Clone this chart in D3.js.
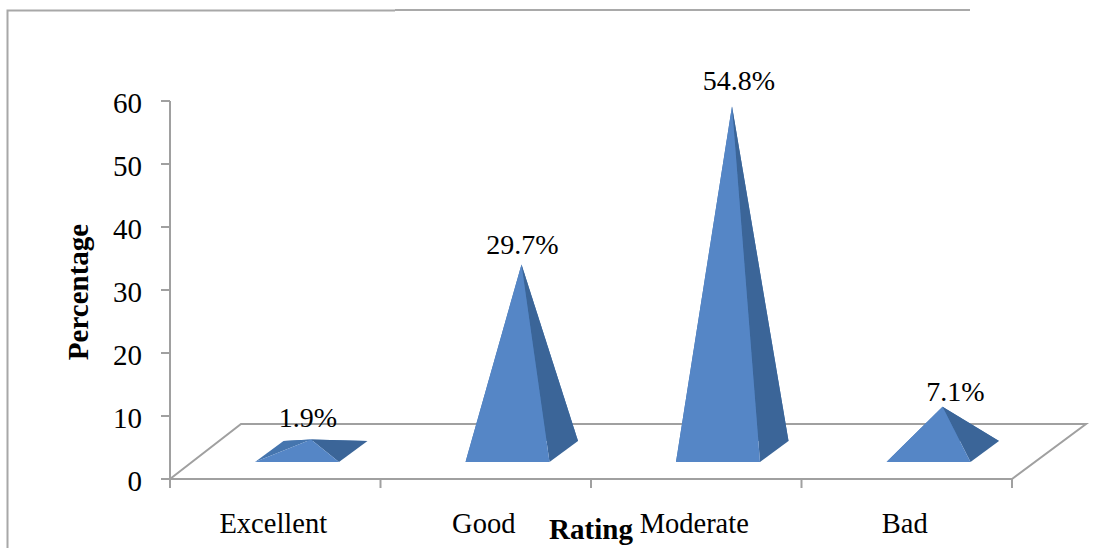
<!DOCTYPE html>
<html><head><meta charset="utf-8">
<style>html,body{margin:0;padding:0;background:#fff}svg{display:block}text{font-family:"Liberation Serif",serif;fill:#000}</style>
<script src="https://cdn.jsdelivr.net/npm/d3@7"></script></head>
<body><svg id="c" width="1113" height="548"></svg>
<script>
const categories = ["Excellent","Good","Moderate","Bad"];
const values = [1.9,29.7,54.8,7.1];
const valueLabels = ["1.9%","29.7%","54.8%","7.1%"];
const yTicks = [0,10,20,30,40,50,60];
const W=1113,H=548, FS=29;
const svg=d3.select("#c");
const defs=svg.append("defs");
defs.append("filter").attr("id","soft").append("feGaussianBlur").attr("stdDeviation",0.5);
const x=d3.scaleBand().domain(categories).range([170,1012]);
const y=d3.scaleLinear().domain([0,60]).range([479,101]);
const grey="#a0a0a0";
// frame
const frame=svg.append("g").attr("fill","none");
frame.append("path").attr("d","M7.5,548V10.5H395").attr("stroke","#a8a8a8").attr("stroke-width",2);
frame.append("path").attr("d","M395,10H970").attr("stroke","#8c8c8c").attr("stroke-width",1.5);
// floor
const dx=73, dy=55;
const x0=x.range()[0], x1=x.range()[1], y0=y(0);
svg.append("path").attr("fill","none").attr("stroke",grey).attr("stroke-width",2)
 .attr("d",d3.line()([[x0,y0],[x0+dx-2,y0-dy],[x1+dx+1,y0-dy],[x1,y0],[x0,y0]]));
// axes
svg.append("g").attr("stroke",grey).attr("stroke-width",2).call(g=>{
 g.append("line").attr("x1",x0).attr("x2",x0).attr("y1",y(60)).attr("y2",y0+9);
 g.selectAll(".ty").data(yTicks).join("line").attr("x1",x0-9).attr("x2",x0).attr("y1",d=>y(d)).attr("y2",d=>y(d));
 const xt=categories.map(c=>x(c)).concat([x1]);
 g.selectAll(".tx").data(xt).join("line").attr("x1",d=>d).attr("x2",d=>d).attr("y1",y0).attr("y2",y0+9);
});
svg.selectAll(".yl").data(yTicks).join("text").attr("x",x0-28).attr("y",d=>y(d)).attr("dy","0.4em")
 .attr("text-anchor","end").attr("font-size",FS).text(d=>d);
// pyramids
const baseY=y0-17, backY=y0-38, bw=x.bandwidth();
const marks=svg.append("g").attr("filter","url(#soft)");
const labelDx=[-3,1,7,13], labelDy=[13,10,16,6];
categories.forEach((c,i)=>{
 const l=x(c)+85, r=l+84, off=28.5;
 const FL=[l,baseY],FR=[r,baseY],BR=[r+off,backY],BL=[l+off,backY];
 const ax=(l+r)/2+14, ay=y(values[i])-(y(0)-(baseY+backY)/2);
 const A=[ax,ay], tri=(pts,col)=>marks.append("path").attr("d",d3.line()(pts)+"Z").attr("fill",col);
 tri([BL,BR,A],"#4474ae");
 tri([FL,BL,A],"#4474ae");
 tri([FR,BR,A],"#3a6598");
 tri([FL,FR,A],"#5586c6");
 svg.append("text").attr("x",ax+labelDx[i]).attr("y",ay-labelDy[i]).attr("text-anchor","middle").attr("font-size",FS-1).text(valueLabels[i]);
 svg.append("text").attr("x",x(c)+bw/2-2).attr("y",533).attr("text-anchor","middle").attr("font-size",FS-0.5).text(c);
});
svg.append("text").attr("x",591).attr("y",539).attr("text-anchor","middle").attr("font-size",FS).attr("font-weight","bold").text("Rating");
svg.append("text").attr("transform","translate(88,292) rotate(-90)").attr("text-anchor","middle").attr("font-size",FS).attr("font-weight","bold").text("Percentage");
</script></body></html>
